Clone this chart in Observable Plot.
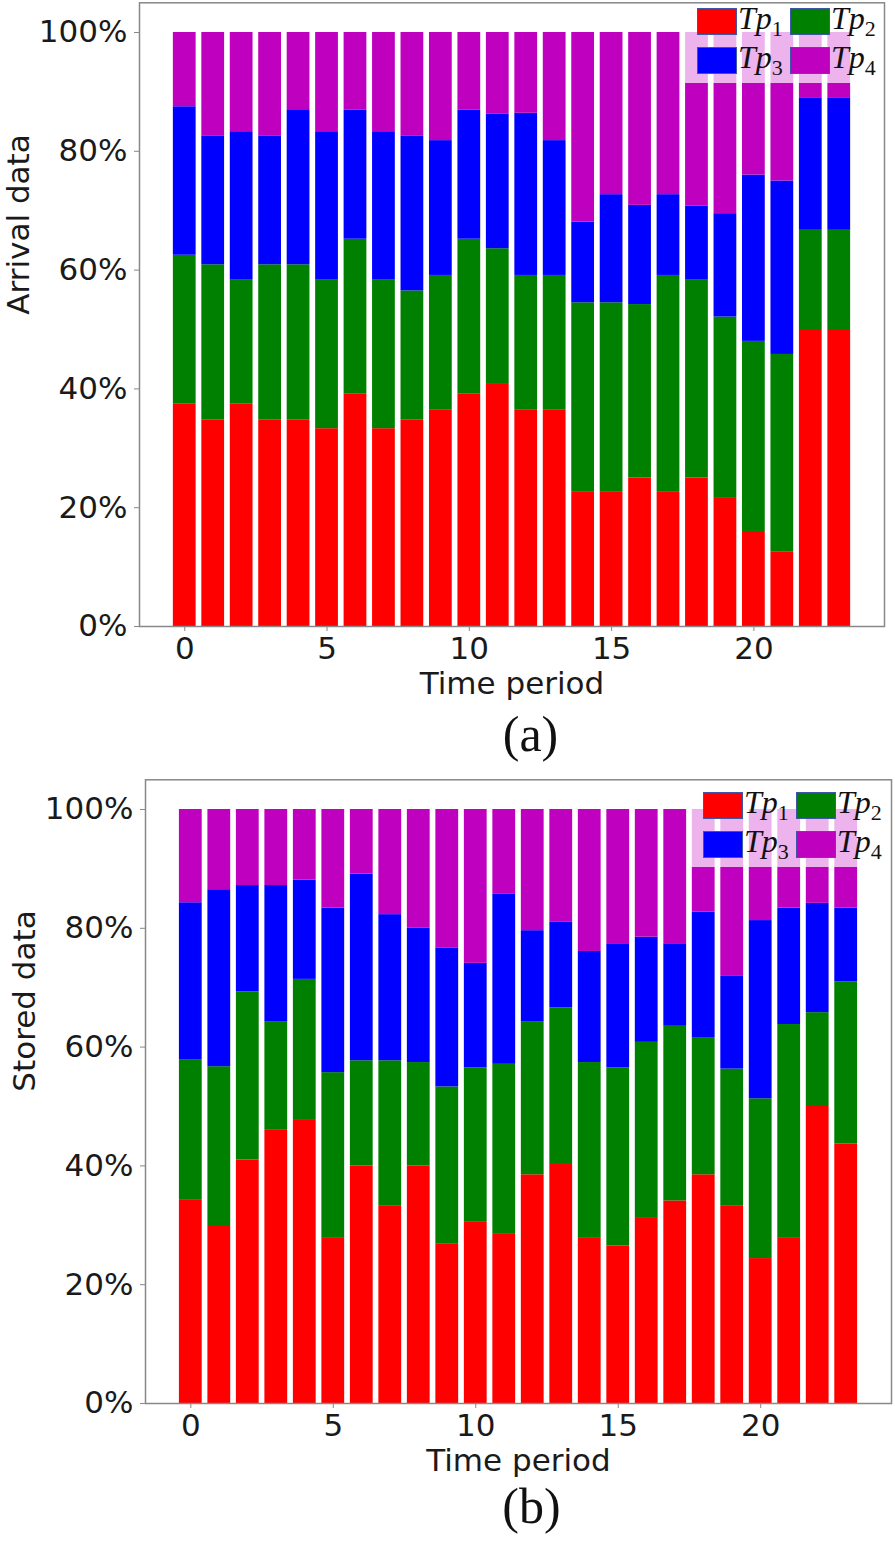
<!DOCTYPE html>
<html>
<head>
<meta charset="utf-8">
<script src="https://cdn.jsdelivr.net/npm/d3@7"></script>
<script src="https://cdn.jsdelivr.net/npm/@observablehq/plot@0.6"></script>
<style>
  html, body { margin: 0; padding: 0; background: #fff; }
  #page { position: relative; width: 895px; height: 1541px; overflow: hidden; background: #fff; }
  .panel { position: absolute; left: 0; }
  .legend { position: absolute; background: rgba(255,255,255,0.7); }
  .sw { position: absolute; box-sizing: border-box; border: 1px solid #3f57a8; }
  .lab { position: absolute; font-family: "Liberation Serif", serif; font-style: italic;
         font-size: 32px; line-height: 32px; color: #111; white-space: nowrap; }
  .lab sub { font-style: normal; font-size: 22px; vertical-align: -7px; line-height: 0; }
</style>
</head>
<body>
<div id="page"></div>
<script>
// ---- data ----
const timePeriods = [0,1,2,3,4,5,6,7,8,9,10,11,12,13,14,15,16,17,18,19,20,21,22,23];
const seriesKeys = ["Tp1", "Tp2", "Tp3", "Tp4"];
const seriesSub = ["1", "2", "3", "4"];
const seriesColors = ["#ff0000", "#008000", "#0000ff", "#bf00bf"];
const yTicks = [0, 20, 40, 60, 80, 100];
const xTicks = [0, 5, 10, 15, 20];

// (a) Arrival data, percent share per time period
const arrivalTp1 = [37.5,34.8,37.5,34.8,34.8,33.3,39.1,33.3,34.8,36.4,39.1,40.9,36.4,36.4,22.7,22.7,25.0,22.7,25.0,21.7,16.0,12.5,50.0,50.0];
const arrivalTp2 = [25.0,26.1,20.8,26.1,26.1,25.0,26.1,25.0,21.7,22.7,26.1,22.7,22.7,22.7,31.8,31.8,29.2,36.4,33.3,30.4,32.0,33.3,16.7,16.7];
const arrivalTp3 = [25.0,21.7,25.0,21.7,26.1,25.0,21.7,25.0,26.1,22.7,21.7,22.7,27.3,22.7,13.6,18.2,16.7,13.6,12.5,17.4,28.0,29.2,22.2,22.2];
const arrivalTp4 = [12.5,17.4,16.7,17.4,13.0,16.7,13.1,16.7,17.4,18.2,13.1,13.7,13.6,18.2,31.9,27.3,29.1,27.3,29.2,30.5,24.0,25.0,11.1,11.1];

// (b) Stored data, percent share per time period
const storedTp1 = [34.2,29.8,41.0,46.1,47.8,27.8,40.0,33.3,40.0,26.8,30.5,28.6,38.5,40.4,27.8,26.5,31.3,34.1,38.5,33.3,24.4,27.8,50.0,43.7];
const storedTp2 = [23.7,26.9,28.3,18.1,23.6,27.9,17.7,24.4,17.4,26.5,26.0,28.5,25.7,26.2,29.6,30.0,29.5,29.4,23.0,23.0,26.9,36.0,15.8,27.3];
const storedTp3 = [26.4,29.8,17.9,23.0,16.7,27.7,31.4,24.6,22.6,23.4,17.6,28.7,15.4,14.4,18.7,20.9,17.7,13.9,21.2,15.6,30.0,19.6,18.4,12.4];
const storedTp4 = [15.7,13.5,12.8,12.8,11.9,16.6,10.9,17.7,20.0,23.3,25.9,14.2,20.4,19.0,23.9,22.6,21.5,22.6,17.3,28.1,18.7,16.6,15.8,16.6];

const arrivalSeries = [arrivalTp1, arrivalTp2, arrivalTp3, arrivalTp4];
const storedSeries = [storedTp1, storedTp2, storedTp3, storedTp4];

function toRows(series) {
  const rows = [];
  timePeriods.forEach((t, i) => {
    seriesKeys.forEach((k, j) => rows.push({t, k, v: series[j][i]}));
  });
  return rows;
}

const page = document.getElementById("page");
const barHalf = 0.4;
const tMin = timePeriods[0], tMax = timePeriods[timePeriods.length - 1];
const span = tMax - tMin + 2 * barHalf;
const xDomain = [tMin - barHalf - 0.05 * span, tMax + barHalf + 0.05 * span];

function makePanel(cfg) {
  const rows = toRows(cfg.series);
  const chart = Plot.plot({
    width: 895,
    height: cfg.height,
    marginLeft: cfg.marginLeft,
    marginRight: cfg.marginRight,
    marginTop: cfg.marginTop,
    marginBottom: cfg.marginBottom,
    style: {fontFamily: "DejaVu Sans, sans-serif", fontSize: "31px", background: "transparent", overflow: "visible"},
    x: {domain: xDomain},
    y: {domain: [0, 105]},
    color: {domain: seriesKeys, range: seriesColors},
    marks: [
      Plot.rectY(rows, {x1: d => d.t - barHalf, x2: d => d.t + barHalf, y: "v", fill: "k"}),
      Plot.frame({stroke: "#888", strokeWidth: 1.5}),
      Plot.axisY({ticks: yTicks, tickFormat: d => d + "%", tickSize: 5, tickPadding: 7,
                  stroke: "#888", fill: "#1a1a1a", label: null}),
      Plot.axisX({ticks: xTicks, tickFormat: d => String(d), tickSize: 5, tickPadding: 5,
                  stroke: "#888", fill: "#1a1a1a", label: null}),
      Plot.text([cfg.ylabel], {text: d => d, frameAnchor: "left", rotate: -90, dx: -111,
                               lineAnchor: "bottom", fill: "#1a1a1a"}),
      Plot.text(["Time period"], {text: d => d, frameAnchor: "bottom", dy: 67,
                                  lineAnchor: "bottom", fill: "#1a1a1a"}),
      Plot.text([cfg.caption], {text: d => d, frameAnchor: "bottom", dx: cfg.captionDx, dy: cfg.captionDy,
                                lineAnchor: "bottom", fontFamily: "Liberation Serif, serif",
                                fontSize: 50, fill: "#111"})
    ]
  });
  const holder = document.createElement("div");
  holder.className = "panel";
  holder.style.top = cfg.top + "px";
  holder.appendChild(chart);
  page.appendChild(holder);

  // legend overlay (inside the axes, upper right)
  const lg = document.createElement("div");
  lg.className = "legend";
  lg.style.left = (cfg.legendX - 15) + "px";
  lg.style.top = cfg.legendBoxTop + "px";
  lg.style.width = "198px";
  lg.style.height = (cfg.legendY + 75 - cfg.legendBoxTop) + "px";
  page.appendChild(lg);
  seriesKeys.forEach((k, j) => {
    const col = j % 2, row = Math.floor(j / 2);
    const sx = cfg.legendX + col * 93, sy = cfg.legendY + row * 39;
    const sw = document.createElement("div");
    sw.className = "sw";
    sw.style.cssText = `left:${sx}px;top:${sy}px;width:40px;height:27px;background:${seriesColors[j]};`;
    page.appendChild(sw);
    const lab = document.createElement("span");
    lab.className = "lab";
    lab.style.left = (sx + 41) + "px";
    lab.style.top = (sy - 6) + "px";
    lab.innerHTML = `Tp<sub>${seriesSub[j]}</sub>`;
    page.appendChild(lab);
  });
}

makePanel({
  series: arrivalSeries, ylabel: "Arrival data", caption: "(a)",
  top: 0, height: 770, marginLeft: 139, marginRight: 11, marginTop: 2.3, marginBottom: 144,
  captionDx: 18.5, captionDy: 124,
  legendX: 697, legendY: 8, legendBoxTop: 4
});
makePanel({
  series: storedSeries, ylabel: "Stored data", caption: "(b)",
  top: 770, height: 771, marginLeft: 145, marginRight: 4, marginTop: 9.3, marginBottom: 138,
  captionDx: 13, captionDy: 119,
  legendX: 703, legendY: 792, legendBoxTop: 784
});
</script>
</body>
</html>
